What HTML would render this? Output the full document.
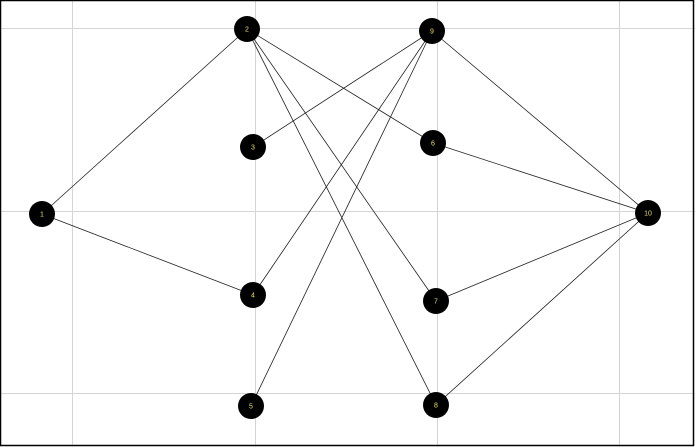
<!DOCTYPE html>
<html><head><style>body{margin:0;background:#fff}svg{display:block}</style></head><body>
<svg width="695" height="447" xmlns="http://www.w3.org/2000/svg">
<rect x="0" y="0" width="695" height="447" fill="#fff"/>
<g stroke="#d4d4d4" stroke-width="1">
<line x1="72.5" y1="0" x2="72.5" y2="447"/><line x1="255.5" y1="0" x2="255.5" y2="447"/>
<line x1="437.5" y1="0" x2="437.5" y2="447"/><line x1="619.5" y1="0" x2="619.5" y2="447"/>
<line x1="0" y1="28.5" x2="695" y2="28.5"/><line x1="0" y1="211.5" x2="695" y2="211.5"/>
<line x1="0" y1="393.5" x2="695" y2="393.5"/>
</g>
<g stroke="#222" stroke-width="0.8">
<line x1="42" y1="214" x2="247" y2="29"/><line x1="42" y1="214" x2="253" y2="295"/>
<line x1="247" y1="29" x2="433" y2="143"/><line x1="247" y1="29" x2="436" y2="301"/>
<line x1="247" y1="29" x2="436" y2="405"/>
<line x1="432" y1="31" x2="253" y2="147"/><line x1="432" y1="31" x2="253" y2="295"/>
<line x1="432" y1="31" x2="251" y2="406"/><line x1="432" y1="31" x2="648" y2="213"/>
<line x1="433" y1="143" x2="648" y2="213"/><line x1="436" y1="301" x2="648" y2="213"/>
<line x1="436" y1="405" x2="648" y2="213"/>
</g>
<g fill="#000">
<circle cx="42" cy="214" r="13"/><circle cx="247" cy="29" r="13"/><circle cx="253" cy="147" r="13"/>
<circle cx="253" cy="295" r="13"/><circle cx="251" cy="406" r="13"/><circle cx="432" cy="31" r="13"/>
<circle cx="433" cy="143" r="13"/><circle cx="436" cy="301" r="13"/><circle cx="436" cy="405" r="13"/>
<circle cx="648" cy="213" r="13"/>
</g>
<g fill="#e8e060" font-family="Liberation Sans, sans-serif" font-size="7" text-anchor="middle">
<text x="42" y="216.5">1</text><text x="247" y="31.5">2</text><text x="253" y="149.5">3</text>
<text x="253" y="297.5">4</text><text x="251" y="408.5">5</text><text x="432" y="33.5">9</text>
<text x="433" y="145.5">6</text><text x="436" y="303.5">7</text><text x="436" y="407.5">8</text>
<text x="648" y="215.5">10</text>
</g>
<rect x="0.5" y="0.5" width="693" height="445" fill="none" stroke="#000" stroke-width="1.5"/>
</svg>
</body></html>
